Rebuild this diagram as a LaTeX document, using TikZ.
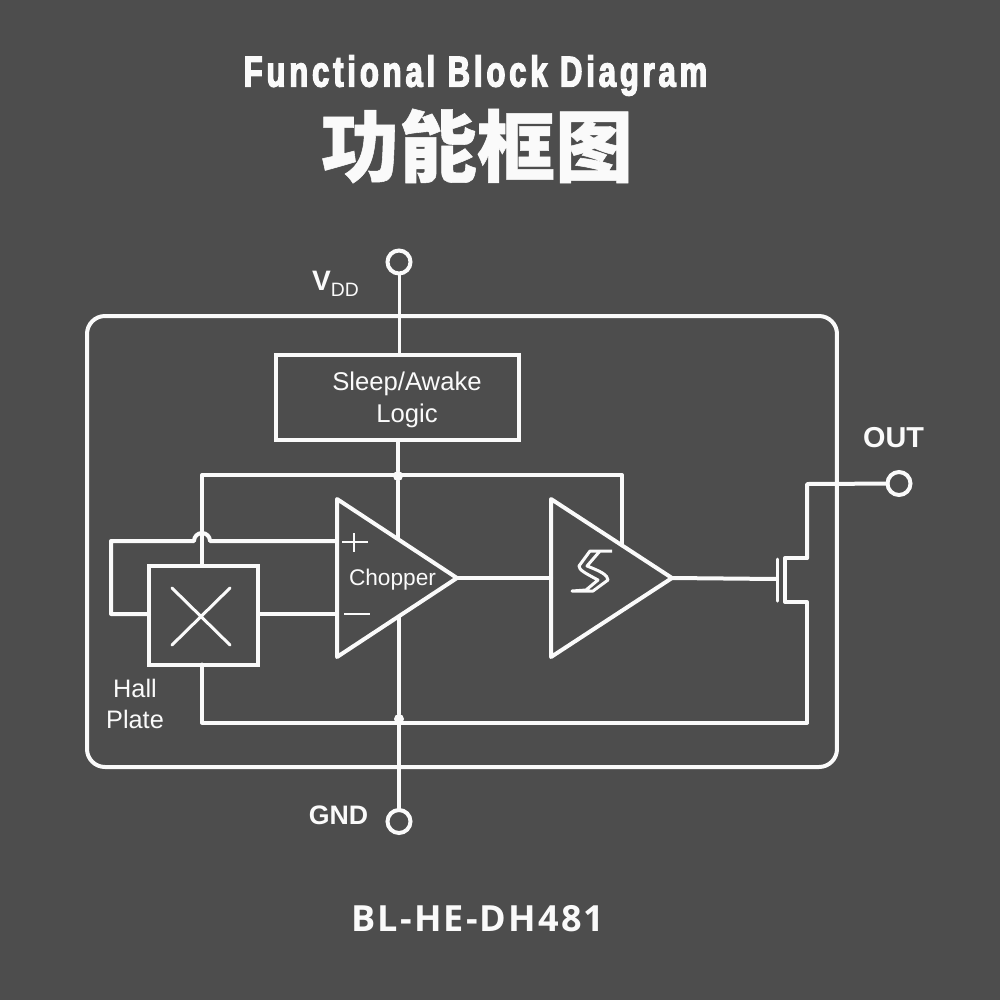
\documentclass[tikz,border=0pt]{standalone}
\usepackage{fontspec}
\setmainfont{Liberation Sans}
\newfontfamily\titlefont[FakeStretch=0.716,LetterSpace=9,BoldFeatures={FakeBold=3}]{Liberation Sans}
\newfontfamily\cjkfont[BoldFeatures={FakeBold=0.7}]{Noto Sans CJK SC}
\newfontfamily\partfont[LetterSpace=6]{Open Sans}
\usetikzlibrary{arrows.meta, positioning, calc}
\definecolor{PanelGray}{RGB}{77, 77, 77}
\definecolor{WireWhite}{RGB}{250, 250, 250}
\tikzset{
  wire/.style={draw=WireWhite, line width=0.4mm, line join=round, line cap=round},
  thinwire/.style={draw=WireWhite, line width=0.3mm, line join=round, line cap=round},
  blockbox/.style={rectangle, draw=WireWhite, line width=0.4mm, outer sep=0pt, inner sep=0pt},
  pinnode/.style={circle, draw=WireWhite, line width=0.4mm, fill=PanelGray,
                  minimum size=2.3mm, inner sep=0pt, outer sep=0pt},
  dotnode/.style={circle, fill=WireWhite, minimum size=1mm, inner sep=0pt, outer sep=0pt},
  amptri/.style={draw=WireWhite, line width=0.4mm, line join=round, fill=PanelGray},
  lbl/.style={text=WireWhite, inner sep=0pt, align=center},
}
\begin{document}
\begin{tikzpicture}[x=0.1mm, y=-0.1mm]
      \useasboundingbox (0,0) rectangle (1000,1000);
      \fill[PanelGray] (0,0) rectangle (1000,1000);

      % titles
      \node[lbl, font=\titlefont\bfseries\fontsize{12.3}{14}\selectfont] (title) at (475.5,75.5) {Functional Block Diagram};
      \node[lbl, font=\cjkfont\bfseries\fontsize{22.2}{24}\selectfont] (titlecn) at (477,146) {功能框图};
      \node[lbl, font=\partfont\bfseries\fontsize{10.25}{12}\selectfont] (part) at (478,919) {BL-HE-DH481};

      % chip outline
      \node[blockbox, rounded corners=1.8mm, minimum width=75mm, minimum height=45.1mm] (chip) at (462,541.5) {};

      % pins
      \node[pinnode] (vdd) at (399,262) {};
      \node[pinnode] (gnd) at (399,821.5) {};
      \node[pinnode] (out) at (899,483.5) {};
      \node[lbl, font=\bfseries\fontsize{8}{10}\selectfont] (vddlbl) at (335.5,283.5) {V\raisebox{-0.4ex}{\fontsize{5.5}{7}\selectfont\mdseries DD}};
      \node[lbl, font=\bfseries\fontsize{7.6}{10}\selectfont] (gndlbl) at (338.5,815) {GND};
      \node[lbl, font=\bfseries\fontsize{8.2}{10}\selectfont] (outlbl) at (893.5,437.5) {OUT};

      % sleep logic
      \node[blockbox, minimum width=24.3mm, minimum height=8.5mm] (logic) at (397.5,397.5) {};
      \node[lbl, font=\fontsize{7.3}{9.1}\selectfont] (logiclbl) at (407,399.5) {Sleep/Awake\\Logic};

      % hall plate
      \node[blockbox, minimum width=10.9mm, minimum height=9.9mm] (hall) at (203.5,615) {};
      \node[lbl, font=\fontsize{7.2}{8.6}\selectfont] (halllbl) at (135,704) {Hall\\Plate};
      \coordinate (xa) at (172,588);
      \coordinate (xb) at (230,645);
      \coordinate (xc) at (230,588);
      \coordinate (xd) at (172,645);
      \draw[thinwire] (xa) -- (xb) (xc) -- (xd);

      % rails
      \node[dotnode] (vnode) at (398,476) {};
      \node[dotnode] (gnode) at (399,719) {};
      \coordinate (rtl) at (202,475);
      \coordinate (rtr) at (622,475);
      \coordinate (rtd) at (622,545);
      \coordinate (rbl) at (202,722.5);
      \coordinate (rbr) at (807,722.5);
      \draw[thinwire] (vdd) -- (logic.north -| vdd);
      \draw[wire] (logic.south -| vnode) -- (vnode);
      \draw[wire] (vnode) -- (vnode |- 0,578);
      \draw[wire] (gnode) -- (gnode |- 0,578);
      \draw[wire] (gnode) -- (gnd);
      \draw[wire] (hall.north -| rtl) -- (rtl) -- (rtr) -- (rtd);
      \draw[wire] (hall.south -| rbl) -- (rbl) -- (rbr);

      % amplifiers
      \coordinate (chopa) at (337,499);
      \coordinate (chopb) at (337,657);
      \coordinate (chopc) at (457,578);
      \coordinate (smta) at (551,499);
      \coordinate (smtb) at (551,657);
      \coordinate (smtc) at (672,578);
      \coordinate (inp) at (337,541);
      \coordinate (inn) at (337,614);
      \coordinate (fbl) at (111,541);
      \coordinate (fbd) at (111,614);
      \coordinate (hopa) at (194,541);
      \draw[amptri] (chopa) -- (chopc) -- (chopb) -- cycle;
      \draw[amptri] (smta) -- (smtc) -- (smtb) -- cycle;
      \draw[wire] (hall.west |- fbd) -- (fbd) -- (fbl) -- (hopa)
          arc[start angle=180, end angle=360, radius=8] -- (inp);
      \draw[wire] (hall.east |- inn) -- (inn);
      \draw[wire] (chopc) -- (smta |- chopc);
      \node[lbl, font=\fontsize{6.45}{8}\selectfont] (choplbl) at (392.5,580) {Chopper};
      \coordinate (pa) at (342,542);
      \coordinate (pb) at (368,542);
      \coordinate (pc) at (354,533);
      \coordinate (pd) at (354,552);
      \draw[WireWhite, line width=0.2mm] (pa) -- (pb) (pc) -- (pd);
      \coordinate (ma) at (344,614);
      \coordinate (mb) at (370,614);
      \draw[WireWhite, line width=0.2mm] (ma) -- (mb);

      % schmitt mark
      \draw[WireWhite, line width=0.3mm, line join=round] (612,551) -- (590,551) -- (579,566)
          .. controls (579,570) and (585,573) .. (598,580) -- (586,590) -- (572,591) -- (593,591)
          -- (608,580) .. controls (608,575) and (600,571) .. (587,566) -- (600,551);

      % output stage
      \coordinate (gate) at (777,579);
      \coordinate (gatet) at (777,559);
      \coordinate (gateb) at (777,601);
      \coordinate (chant) at (785,558);
      \coordinate (chanb) at (785,602);
      \coordinate (drn) at (807,558);
      \coordinate (src) at (807,602);
      \coordinate (outl) at (807,484);
      \draw[wire] (smtc) -- (gate);
      \draw[thinwire] (gatet) -- (gateb);
      \draw[wire] (drn) -- (chant) -- (chanb) -- (src) -- (rbr);
      \draw[wire] (drn) -- (outl) -- (out);
\end{tikzpicture}
\end{document}
